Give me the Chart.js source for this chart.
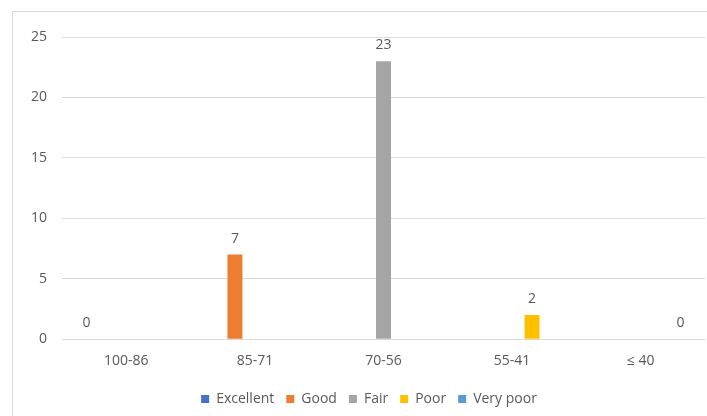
<!DOCTYPE html>
<html>
<head>
<meta charset="utf-8">
<script src="https://cdn.jsdelivr.net/npm/chart.js@4"></script>
<style>
  html, body { margin: 0; padding: 0; background: #fff; overflow: hidden; }
  #frame { position: absolute; left: 12px; top: 11px; width: 720px; height: 430px; border: 1px solid #d9d9d9; }
  #chart { position: absolute; left: 0; top: 0; }
</style>
</head>
<body>
<div id="frame"></div>
<canvas id="chart" width="707" height="416"></canvas>
<script>
const categories = ["100-86", "85-71", "70-56", "55-41", "\u2264 40"];
const seriesNames = ["Excellent", "Good", "Fair", "Poor", "Very poor"];
const excellent = [0, null, null, null, null];
const good = [null, 7, null, null, null];
const fair = [null, null, 23, null, null];
const poor = [null, null, null, 2, null];
const veryPoor = [null, null, null, null, 0];
const yTicks = [0, 5, 10, 15, 20, 25];

const colors = ["#4472C4", "#ED7D31", "#A5A5A5", "#FFC000", "#5B9BD5"];
const seriesValues = [excellent, good, fair, poor, veryPoor];
const FONT = "'Open Sans', sans-serif";

// value labels above each bar, like Excel's data labels
const valueLabels = {
    id: "valueLabels",
    afterDatasetsDraw(chart) {
        const ctx = chart.ctx;
        ctx.save();
        ctx.font = "14px " + FONT;
        ctx.fillStyle = "#595959";
        ctx.textAlign = "center";
        ctx.textBaseline = "middle";
        chart.data.datasets.forEach((ds, i) => {
            const meta = chart.getDatasetMeta(i);
            meta.data.forEach((bar, j) => {
                const v = ds.data[j];
                if (v === null || v === undefined) return;
                ctx.fillText(String(v), bar.x, bar.y - 16);
            });
        });
        ctx.restore();
    }
};

// legend sits centred in the chart frame, close under the axis labels
const legendPlace = {
    id: "legendPlace",
    afterLayout(chart) {
        const lg = chart.legend;
        const h = lg.bottom - lg.top;
        lg.left = 12;
        lg.right = 726;
        lg.top = 380;
        lg.bottom = 380 + h;
    }
};

new Chart(document.getElementById("chart").getContext("2d"), {
    type: "bar",
    data: {
        labels: categories,
        datasets: seriesNames.map((name, i) => ({
            label: name,
            data: seriesValues[i],
            backgroundColor: colors[i],
            categoryPercentage: 0.776,
            barPercentage: 0.75
        }))
    },
    options: {
        responsive: false,
        animation: false,
        layout: { padding: { left: 16, right: 2, top: 37, bottom: -2 } },
        plugins: {
            legend: {
                position: "bottom",
                labels: {
                    boxWidth: 8,
                    boxHeight: 8,
                    padding: 12,
                    color: "#595959",
                    font: { family: FONT, size: 14 }
                }
            },
            tooltip: { enabled: false }
        },
        scales: {
            x: {
                grid: { display: false, drawTicks: false },
                border: { display: false },
                ticks: { color: "#595959", padding: 13, font: { family: FONT, size: 14 } }
            },
            y: {
                min: 0,
                max: 25,
                afterBuildTicks(axis) { axis.ticks = yTicks.map(v => ({ value: v })); },
                grid: { color: "#d9d9d9", drawTicks: false },
                border: { display: false },
                ticks: { color: "#595959", padding: 15, font: { family: FONT, size: 14 } }
            }
        }
    },
    plugins: [valueLabels, legendPlace]
});
</script>
</body>
</html>
